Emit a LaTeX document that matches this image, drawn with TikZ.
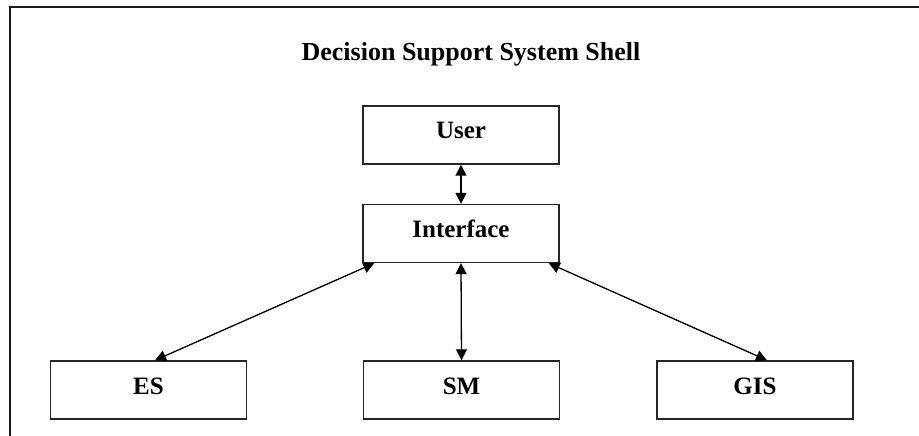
\documentclass[tikz,border=0pt]{standalone}
\usepackage{fontspec}
\setmainfont{Liberation Serif}
\usetikzlibrary{arrows.meta}
\begin{document}
\begin{tikzpicture}[x=1pt,y=-1pt,
  box/.style={draw=black!85,line width=1.4pt,minimum width=196pt,minimum height=58pt,
    inner sep=0pt,text height=17pt,text depth=9pt,font=\fontsize{25}{28}\selectfont\bfseries},
  link/.style={line width=1.3pt,{Triangle[length=11pt,width=11pt]}-{Triangle[length=11pt,width=11pt]}}]
  \useasboundingbox (0,0) rectangle (919,436);
  % frame edges
  \draw[line width=2pt,black!90] (10,436) -- (10,6.7) -- (919,6.7);
  % title
  \node[anchor=base,inner sep=0pt,font=\fontsize{26}{29}\selectfont\bfseries] (title) at (471,61) {Decision Support System Shell};
  % boxes
  \node[box] (user) at (461,135) {User};
  \node[box] (inter) at (461,233.5) {Interface};
  \node[box] (es) at (148.5,390) {ES};
  \node[box] (sm) at (461.5,390) {SM};
  \node[box] (gis) at (755,390) {GIS};
  % connectors
  \draw[link] (user.south) -- (inter.north);
  \draw[link] (inter.south) -- (sm.north);
  \draw[link] ([xshift=12pt]inter.south west) -- ([xshift=6.5pt]es.north);
  \draw[link] ([xshift=-11pt]inter.south east) -- ([xshift=12pt]gis.north);
\end{tikzpicture}
\end{document}
